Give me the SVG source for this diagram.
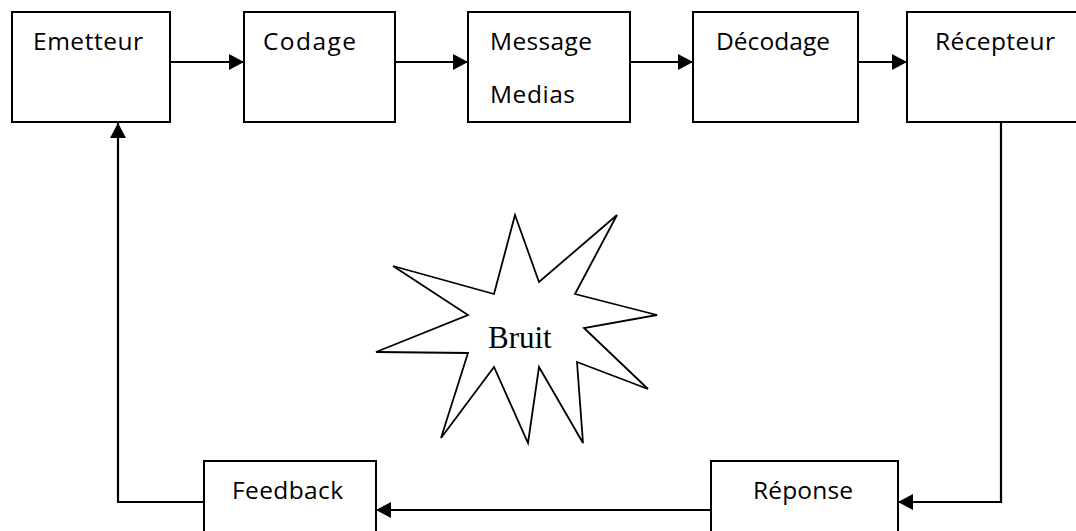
<svg xmlns="http://www.w3.org/2000/svg" width="1076" height="531" viewBox="0 0 1076 531">
  <style>
    .box { fill: #ffffff; stroke: #000000; stroke-width: 2; }
    .lbl { font-family: "Open Sans", "Liberation Sans", sans-serif; font-size: 24.5px; fill: #000000; }
    .conn { fill: none; stroke: #000000; stroke-width: 2.2; marker-end: url(#arrow); }
    .star { fill: #ffffff; stroke: #000000; stroke-width: 1.8; stroke-linejoin: miter; }
    .serif { font-family: "Liberation Serif", "Times New Roman", serif; font-size: 31px; fill: #000000; }
  </style>
  <defs>
    <marker id="arrow" markerUnits="userSpaceOnUse" markerWidth="15" markerHeight="16" refX="15" refY="8" orient="auto">
      <path d="M0,0 L15,8 L0,16 Z" fill="#000000"/>
    </marker>
  </defs>
  <rect width="1076" height="531" fill="#ffffff"/>

  <g id="connectors">
    <path class="conn" d="M170,62 H244"/>
    <path class="conn" d="M395,62 H468"/>
    <path class="conn" d="M630,62 H693"/>
    <path class="conn" d="M858,62 H907"/>
    <path class="conn" d="M1001,122 V502 H898"/>
    <path class="conn" d="M711,510 H376"/>
    <path class="conn" d="M204,502 H118 V123"/>
  </g>

  <g id="emetteur">
    <rect class="box" x="12" y="12" width="158" height="110"/>
    <text class="lbl" x="33" y="50" textLength="110" lengthAdjust="spacing">Emetteur</text>
  </g>
  <g id="codage">
    <rect class="box" x="244" y="12" width="151" height="110"/>
    <text class="lbl" x="263" y="50" textLength="93" lengthAdjust="spacing">Codage</text>
  </g>
  <g id="message">
    <rect class="box" x="468" y="12" width="162" height="110"/>
    <text class="lbl" x="490" y="50" textLength="102" lengthAdjust="spacing">Message</text>
    <text class="lbl" x="490" y="103" textLength="85" lengthAdjust="spacing">Medias</text>
  </g>
  <g id="decodage">
    <rect class="box" x="693" y="12" width="165" height="110"/>
    <text class="lbl" x="716" y="50" textLength="114" lengthAdjust="spacing">Décodage</text>
  </g>
  <g id="recepteur">
    <rect class="box" x="907" y="12" width="200" height="110"/>
    <text class="lbl" x="935" y="50" textLength="120" lengthAdjust="spacing">Récepteur</text>
  </g>
  <g id="feedback">
    <rect class="box" x="204" y="461" width="172" height="100"/>
    <text class="lbl" x="232" y="499" textLength="111" lengthAdjust="spacing">Feedback</text>
  </g>
  <g id="reponse">
    <rect class="box" x="711" y="461" width="187" height="100"/>
    <text class="lbl" x="753" y="499" textLength="100" lengthAdjust="spacing">Réponse</text>
  </g>
  <g id="bruit">
    <polygon class="star" points="515,215 539,282 617,215 575,294 657,315 584,328 648,389 577,362 583,443 539,367 528,443 494,367 441,438 468,353 376,352 468,315 393,266 494,294"/>
    <text class="serif" x="488" y="348">Bruit</text>
  </g>
</svg>
